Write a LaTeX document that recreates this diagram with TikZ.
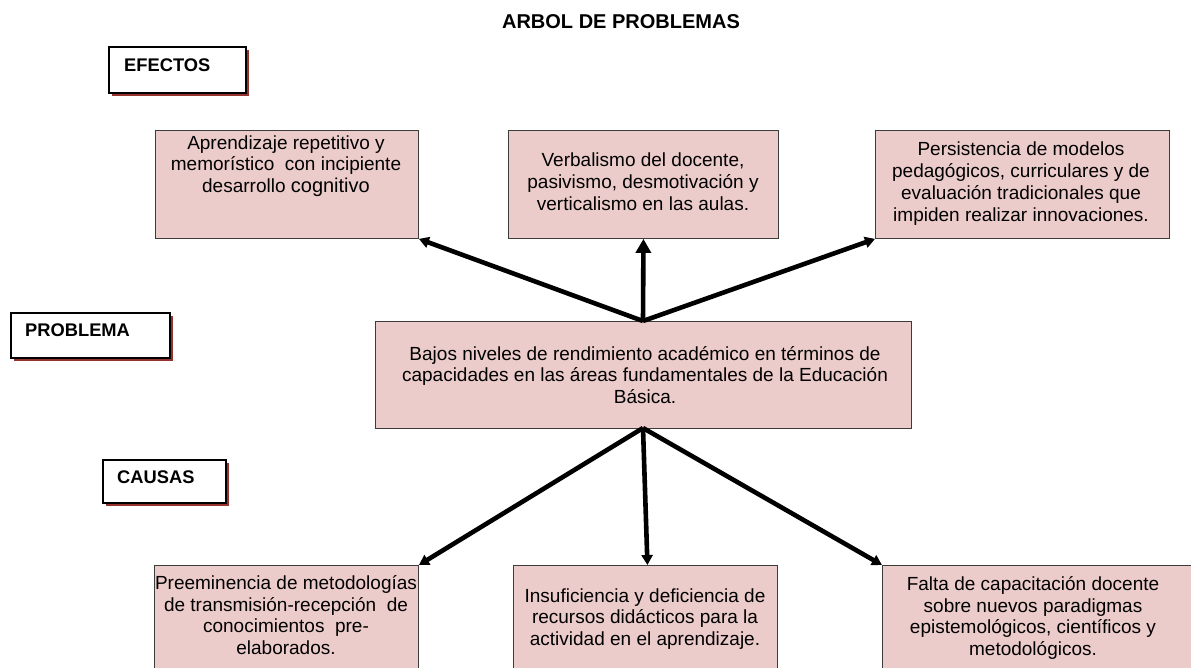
\documentclass[tikz,border=0pt]{standalone}
\usepackage{fontspec}
\setmainfont{Liberation Sans}
\usetikzlibrary{arrows.meta}
\definecolor{boxfill}{RGB}{236,204,203}
\definecolor{shadowred}{RGB}{150,50,45}
\definecolor{boxline}{RGB}{60,60,60}
\tikzset{
  x=1pt, y=-1pt,
  pbox/.style={draw=boxline, line width=0.9pt, fill=boxfill},
  ptext/.style={align=center, inner sep=0pt, font=\fontsize{19}{21.8}\selectfont},
  lbox/.style={draw=black, line width=1.3pt, fill=white},
  lshadow/.style={fill=shadowred, draw=none},
  ltext/.style={anchor=west, inner sep=0pt, font=\bfseries\fontsize{18.3}{20}\selectfont},
  arr/.style={line width=4.6pt, -{Triangle[length=10pt,width=11pt]}},
  bigarr/.style={line width=4.6pt, -{Triangle[length=14pt,width=15pt]}},
}
\begin{document}
\begin{tikzpicture}
\useasboundingbox (0,0) rectangle (1191,667);
% title
\node[inner sep=0pt, font=\bfseries\fontsize{20}{22}\selectfont] (title) at (621,22) {ARBOL DE PROBLEMAS};
% label boxes
\fill[lshadow] (112,50) rectangle (249,96);
\draw[lbox] (109,47) rectangle (246,93);
\node[ltext] (lef) at (124,65) {EFECTOS};
\fill[lshadow] (14,316) rectangle (173,361);
\draw[lbox] (11,313) rectangle (170,358);
\node[ltext] (lpr) at (25,330) {PROBLEMA};
\fill[lshadow] (106,463) rectangle (229,506);
\draw[lbox] (103,460) rectangle (226,503);
\node[ltext] (lca) at (117,477) {CAUSAS};
% effect boxes
\node[pbox, minimum width=263pt, minimum height=108pt, anchor=north west] (e1) at (155,130) {};
\node[pbox, minimum width=270pt, minimum height=108pt, anchor=north west] (e2) at (508,130) {};
\node[pbox, minimum width=294pt, minimum height=108pt, anchor=north west] (e3) at (875,130) {};
\node[ptext] (t1) at (286,166) {Aprendizaje repetitivo y\\memorístico\ \ con incipiente\\desarrollo {\fontsize{20}{21.8}\selectfont cognitivo}};
\node[ptext] (t2) at (643,182) {Verbalismo del docente,\\pasivismo, desmotivación y\\verticalismo en las aulas.};
\node[ptext] (t3) at (1021,183.5) {Persistencia de modelos\\pedagógicos, curriculares y de\\evaluación tradicionales que\\impiden realizar innovaciones.};
% problem
\node[pbox, minimum width=536pt, minimum height=107pt, anchor=north west] (p) at (375,321) {};
\node[ptext] (tp) at (645,375) {Bajos niveles de rendimiento académico en términos de\\capacidades en las áreas fundamentales de la Educación\\Básica.};
% cause boxes
\node[pbox, minimum width=264pt, minimum height=110pt, anchor=north west] (c1) at (154,565) {};
\node[pbox, minimum width=264pt, minimum height=110pt, anchor=north west] (c2) at (513,565) {};
\node[pbox, minimum width=310pt, minimum height=110pt, anchor=north west] (c3) at (882,565) {};
\node[ptext] (u1) at (286,615) {Preeminencia de metodologías\\de transmisión-recepción\ \ de\\conocimientos\ \ pre-\\elaborados.};
\node[ptext] (u2) at (645,619) {Insuficiencia y deficiencia de\\recursos didácticos para la\\actividad en el aprendizaje.};
\node[ptext] (u3) at (1033,618) {Falta de capacitación docente\\sobre nuevos paradigmas\\epistemológicos, científicos y\\metodológicos.};
% arrows
\coordinate (ptop) at (643,321);
\coordinate (pbot) at (643,428);
\draw[arr] (ptop) -- (e1.south east);
\draw[bigarr] (ptop) -- (e2.south);
\draw[arr] (ptop) -- (e3.south west);
\draw[arr] (pbot) -- (c1.north east);
\draw[arr] (pbot) -- ([xshift=2pt]c2.north);
\draw[arr] (pbot) -- (c3.north west);
\end{tikzpicture}
\end{document}
